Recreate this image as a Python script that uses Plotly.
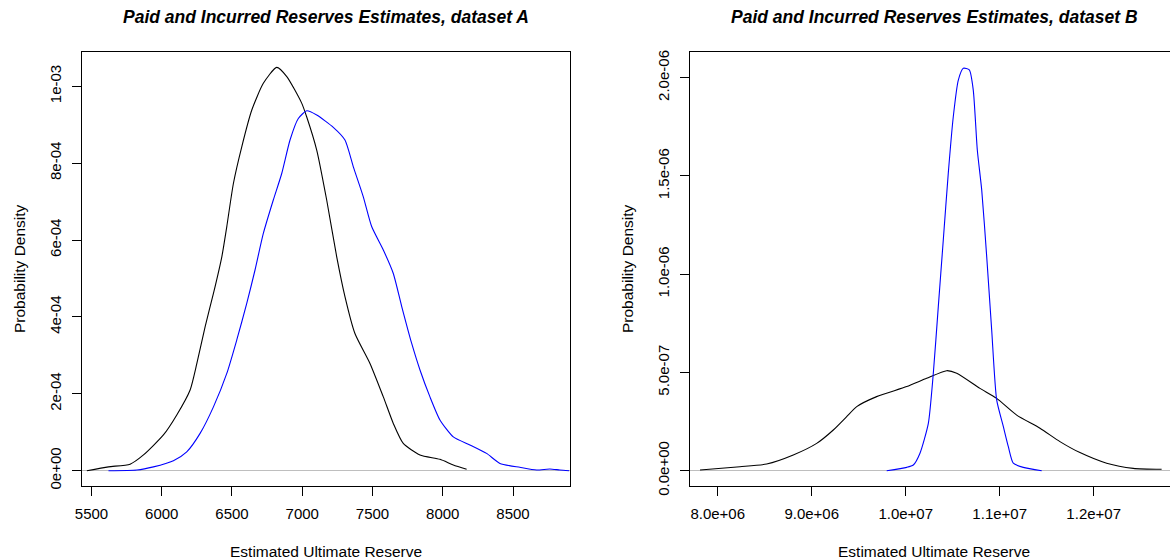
import plotly.graph_objects as go

# ---------------- data: dataset A ----------------
a_black_x = [5467, 5621, 5775, 5870, 6012, 6107, 6202, 6250, 6309, 6368, 6428, 6463, 6510, 6570,
             6641, 6723, 6818, 6890, 6996, 7032, 7103, 7174, 7245, 7304, 7375, 7482, 7577, 7648,
             7719, 7838, 7980, 8075, 8170]
a_black_y = [0.0, 1.0e-5, 1.7e-5, 4.1e-5, 9.3e-5, 1.45e-4, 2.1e-4, 2.79e-4, 3.75e-4, 4.61e-4,
             5.57e-4, 6.35e-4, 7.47e-4, 8.43e-4, 9.38e-4, 1.0075e-3, 1.049e-3, 1.025e-3, 9.56e-4,
             9.2e-4, 8.34e-4, 7.04e-4, 5.57e-4, 4.53e-4, 3.57e-4, 2.79e-4, 1.92e-4, 1.23e-4,
             7.1e-5, 4.1e-5, 2.96e-5, 1.5e-5, 3.6e-6]
a_blue_x = [5621, 5823, 5941, 6083, 6178, 6273, 6368, 6463, 6534, 6605, 6664, 6723, 6794, 6854,
            6913, 6972, 7032, 7103, 7221, 7304, 7363, 7434, 7494, 7577, 7648, 7708, 7779, 7838,
            7909, 7980, 8075, 8193, 8312, 8407, 8549, 8668, 8762, 8833, 8900]
a_blue_y = [0.0, 1.8e-6, 1.0e-5, 2.6e-5, 4.9e-5, 9.7e-5, 1.66e-4, 2.53e-4, 3.4e-4, 4.35e-4,
            5.22e-4, 6.17e-4, 7.04e-4, 7.73e-4, 8.6e-4, 9.16e-4, 9.36e-4, 9.25e-4, 8.93e-4,
            8.6e-4, 7.91e-4, 7.13e-4, 6.35e-4, 5.74e-4, 5.13e-4, 4.27e-4, 3.31e-4, 2.62e-4,
            1.92e-4, 1.32e-4, 8.8e-5, 6.7e-5, 4.5e-5, 1.9e-5, 8.8e-6, 1.8e-6, 4.4e-6, 1.8e-6, 0.0]

# ---------------- data: dataset B ----------------
b_black_x = [7.812e6, 8.237e6, 8.521e6, 8.804e6, 9.053e6, 9.230e6, 9.372e6, 9.479e6, 9.691e6,
             10.011e6, 10.223e6, 10.436e6, 10.543e6, 10.790e6, 10.968e6, 11.181e6, 11.429e6,
             11.641e6, 11.854e6, 12.138e6, 12.421e6, 12.723e6]
b_black_y = [3.6e-9, 2.0e-8, 3.4e-8, 8.0e-8, 1.39e-7, 2.07e-7, 2.75e-7, 3.26e-7, 3.77e-7,
             4.28e-7, 4.7e-7, 5.09e-7, 4.96e-7, 4.19e-7, 3.68e-7, 2.83e-7, 2.16e-7, 1.48e-7,
             9.2e-8, 3.8e-8, 1.2e-8, 7e-9]
b_blue_x = [9.798e6, 10.011e6, 10.081e6, 10.152e6, 10.241e6, 10.294e6, 10.347e6, 10.400e6,
            10.453e6, 10.506e6, 10.560e6, 10.613e6, 10.677e6, 10.719e6, 10.762e6, 10.809e6,
            10.862e6, 10.915e6, 10.968e6, 11.039e6, 11.092e6, 11.145e6, 11.251e6, 11.447e6]
b_blue_y = [0.0, 1.7e-8, 2.9e-8, 8.9e-8, 2.41e-7, 4.96e-7, 8.35e-7, 1.174e-6, 1.513e-6, 1.80e-6,
            1.988e-6, 2.048e-6, 2.04e-6, 1.937e-6, 1.632e-6, 1.428e-6, 1.089e-6, 7.16e-7, 3.6e-7,
            2.24e-7, 1.22e-7, 3.8e-8, 1.7e-8, 0.0]

# ---------------- ticks ----------------
a_xticks = [5500, 6000, 6500, 7000, 7500, 8000, 8500]
a_yticks = [0, 2e-4, 4e-4, 6e-4, 8e-4, 1e-3]
a_ylabels = ["0e+00", "2e-04", "4e-04", "6e-04", "8e-04", "1e-03"]
b_xticks = [8e6, 9e6, 1e7, 1.1e7, 1.2e7]
b_xlabels = ["8.0e+06", "9.0e+06", "1.0e+07", "1.1e+07", "1.2e+07"]
b_yticks = [0, 5e-7, 1e-6, 1.5e-6, 2e-6]
b_ylabels = ["0.0e+00", "5.0e-07", "1.0e-06", "1.5e-06", "2.0e-06"]

titles = ["Paid and Incurred Reserves Estimates, dataset A",
          "Paid and Incurred Reserves Estimates, dataset B"]
xtitle = "Estimated Ultimate Reserve"
ytitle = "Probability Density"

W, H = 1170, 560
FONT = "Liberation Sans, Arial, sans-serif"

fig = go.Figure()
lw = 1.1
line_kw = dict(shape="spline", smoothing=0.6, width=lw)
fig.add_trace(go.Scatter(x=a_black_x, y=a_black_y, mode="lines", line=dict(color="black", **line_kw),
                         xaxis="x", yaxis="y", showlegend=False))
fig.add_trace(go.Scatter(x=a_blue_x, y=a_blue_y, mode="lines", line=dict(color="#0000FF", **line_kw),
                         xaxis="x", yaxis="y", showlegend=False))
fig.add_trace(go.Scatter(x=b_black_x, y=b_black_y, mode="lines", line=dict(color="black", **line_kw),
                         xaxis="x2", yaxis="y2", showlegend=False))
fig.add_trace(go.Scatter(x=b_blue_x, y=b_blue_y, mode="lines", line=dict(color="#0000FF", **line_kw),
                         xaxis="x2", yaxis="y2", showlegend=False))


def px_x(p):
    return p / W


def px_y(p):
    return (H - p) / H


ydom = [px_y(486), px_y(52.3)]
tickfont = dict(family=FONT, size=15, color="black")
common = dict(showline=True, linecolor="black", linewidth=1, ticks="outside", ticklen=9,
              tickcolor="black", tickwidth=1, showgrid=False, tickfont=tickfont, fixedrange=True,
              automargin=False)

fig.update_layout(
    width=W, height=H, margin=dict(l=0, r=0, t=0, b=0, autoexpand=False),
    paper_bgcolor="white", plot_bgcolor="white", hovermode=False,
    xaxis=dict(domain=[px_x(81.5), px_x(569.5)], range=[5429, 8902], tickvals=a_xticks,
               mirror=True, zeroline=False, anchor="y", ticklabelstandoff=5, **common),
    yaxis=dict(domain=ydom, range=[-3.98e-5, 1.0882e-3], tickvals=a_yticks, ticktext=a_ylabels,
               tickangle=-90, mirror=True, zeroline=True, zerolinecolor="#BEBEBE", zerolinewidth=1,
               anchor="x", ticklabelstandoff=5, **common),
    xaxis2=dict(domain=[px_x(690.3), 1.0], range=[7.7085e6, 1.2812e7], tickvals=b_xticks,
                ticktext=b_xlabels, mirror=True, zeroline=False, anchor="y2",
                ticklabelstandoff=5, **common),
    yaxis2=dict(domain=ydom, range=[-7.79e-8, 2.1293e-6], tickvals=b_yticks, ticktext=b_ylabels,
                tickangle=-90, mirror=False, zeroline=True, zerolinecolor="#BEBEBE",
                zerolinewidth=1, anchor="x2", ticklabelstandoff=5, **common),
)

ann = []
for cx, t in [(325.5, titles[0]), (934, titles[1])]:
    ann.append(dict(x=px_x(cx), y=px_y(16.7), xref="paper", yref="paper", text=t, showarrow=False,
                    xanchor="center", yanchor="middle",
                    font=dict(family=FONT, size=17.5, color="black", weight="bold", style="italic")))
for cx in [325.5, 934]:
    ann.append(dict(x=px_x(cx), y=px_y(551), xref="paper", yref="paper", text=xtitle,
                    showarrow=False, xanchor="center", yanchor="middle",
                    font=dict(family=FONT, size=15.5, color="black")))
for cx in [19, 627]:
    ann.append(dict(x=px_x(cx), y=px_y(269), xref="paper", yref="paper", text=ytitle,
                    showarrow=False, xanchor="center", yanchor="middle", textangle=-90,
                    font=dict(family=FONT, size=15.5, color="black")))
fig.update_layout(annotations=ann)

# remove the default page margin so the figure sits at the top-left corner
fig.write_html("out.html", config={"displayModeBar": False, "staticPlot": True},
               post_script="document.body.style.margin='0';document.body.style.overflow='hidden';")
